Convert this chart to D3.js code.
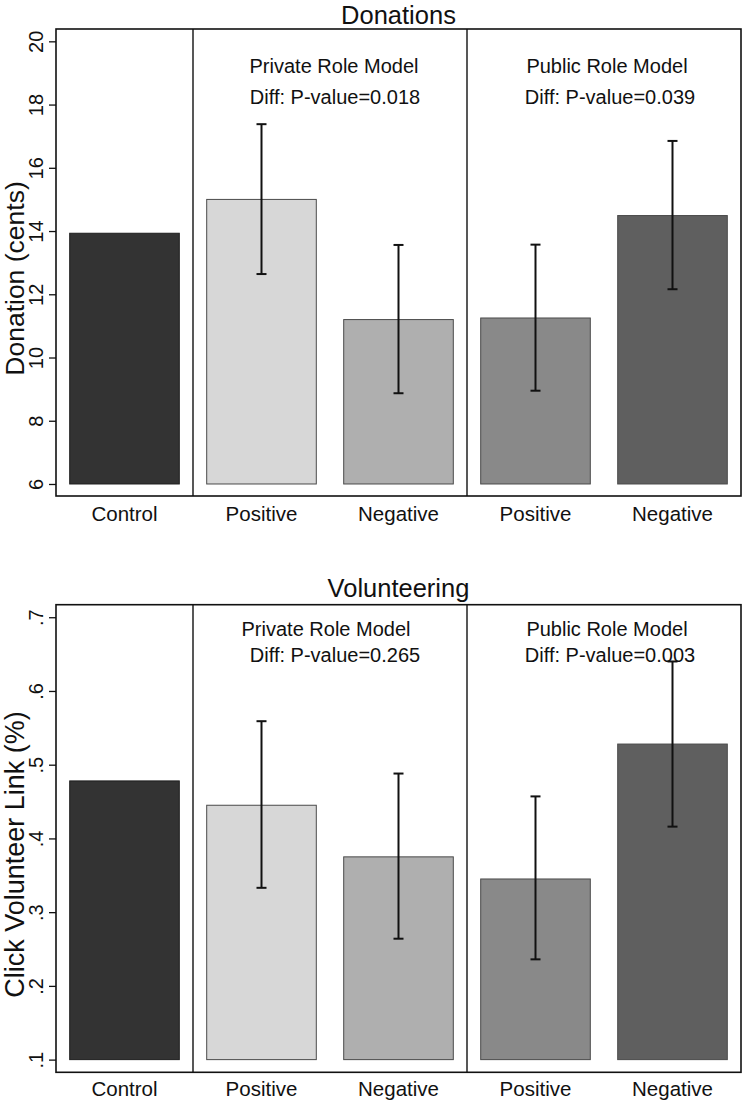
<!DOCTYPE html>
<html>
<head>
<meta charset="utf-8">
<script src="https://cdn.jsdelivr.net/npm/d3@7"></script>
<style>
  html, body { margin: 0; padding: 0; background: #fff; }
  svg { display: block; font-family: "Liberation Sans", Arial, Helvetica, sans-serif; }
</style>
</head>
<body>
<svg id="chart" width="742" height="1100"></svg>
<script>
// ---- Data ----
const categories = ["Control", "Private Positive", "Private Negative", "Public Positive", "Public Negative"];
const xTickLabels = ["Control", "Positive", "Negative", "Positive", "Negative"];
const barColors = ["#333333", "#d7d7d7", "#afafaf", "#898989", "#5f5f5f"];

const donationMean = [13.93, 15.0, 11.2, 11.25, 14.49];
const donationLo   = [null, 12.64, 8.87, 8.95, 12.16];
const donationHi   = [null, 17.38, 13.56, 13.57, 16.85];
const donationTicks = [6, 8, 10, 12, 14, 16, 18, 20];
const donationTickLabels = ["6", "8", "10", "12", "14", "16", "18", "20"];

const volMean = [0.478, 0.445, 0.375, 0.345, 0.528];
const volLo   = [null, 0.333, 0.264, 0.236, 0.416];
const volHi   = [null, 0.559, 0.488, 0.457, 0.640];
const volTicks = [0.1, 0.2, 0.3, 0.4, 0.5, 0.6, 0.7];
const volTickLabels = [".1", ".2", ".3", ".4", ".5", ".6", ".7"];

const groupNames = ["Private Role Model", "Public Role Model"];
const donationPValues = ["Diff: P-value=0.018", "Diff: P-value=0.039"];
const volPValues = ["Diff: P-value=0.265", "Diff: P-value=0.003"];

// ---- Drawing ----
const svg = d3.select("#chart");
const left = 56, right = 741;

const x = d3.scaleBand().domain(categories).range([left, right]).paddingInner(0.2).paddingOuter(0.1);

function panel(cfg) {
  const g = svg.append("g");
  const y = d3.scaleLinear().domain(cfg.domain).range([cfg.bottom, cfg.top]);
  const base = cfg.ticks[0];
  const rows = categories.map((c, i) => ({c, i, m: cfg.mean[i], lo: cfg.lo[i], hi: cfg.hi[i]}));

  // Bars
  g.selectAll("rect.bar").data(rows).join("rect")
    .attr("class", "bar")
    .attr("x", d => x(d.c))
    .attr("width", x.bandwidth())
    .attr("y", d => y(d.m))
    .attr("height", d => y(base) - y(d.m))
    .attr("fill", d => barColors[d.i])
    .attr("stroke", d => d.i === 0 ? "#1e1e1e" : "#4a4a4a")
    .attr("stroke-width", 1);

  // Error bars
  const eb = rows.filter(d => d.lo !== null);
  const cap = 5;
  g.selectAll("line.eb").data(eb).join("line")
    .attr("x1", d => x(d.c) + x.bandwidth() / 2).attr("x2", d => x(d.c) + x.bandwidth() / 2)
    .attr("y1", d => y(d.lo)).attr("y2", d => y(d.hi))
    .attr("stroke", "#111").attr("stroke-width", 2);
  g.selectAll("line.capHi").data(eb).join("line")
    .attr("x1", d => x(d.c) + x.bandwidth() / 2 - cap).attr("x2", d => x(d.c) + x.bandwidth() / 2 + cap)
    .attr("y1", d => y(d.hi)).attr("y2", d => y(d.hi))
    .attr("stroke", "#111").attr("stroke-width", 2);
  g.selectAll("line.capLo").data(eb).join("line")
    .attr("x1", d => x(d.c) + x.bandwidth() / 2 - cap).attr("x2", d => x(d.c) + x.bandwidth() / 2 + cap)
    .attr("y1", d => y(d.lo)).attr("y2", d => y(d.lo))
    .attr("stroke", "#111").attr("stroke-width", 2);

  // Frame
  g.append("rect")
    .attr("x", left).attr("y", cfg.top)
    .attr("width", right - left).attr("height", cfg.bottom - cfg.top)
    .attr("fill", "none").attr("stroke", "#111").attr("stroke-width", 1.6);

  // Group dividers
  const half = x.step() * x.paddingInner() / 2;
  [categories[1], categories[3]].forEach(c => {
    g.append("line")
      .attr("x1", x(c) - half).attr("x2", x(c) - half)
      .attr("y1", cfg.top).attr("y2", cfg.bottom)
      .attr("stroke", "#111").attr("stroke-width", 1.4);
  });

  // Y axis
  const yAxis = d3.axisLeft(y).tickValues(cfg.ticks)
    .tickFormat((d, i) => cfg.tickLabels[i]).tickSize(7).tickSizeOuter(0);
  const ax = g.append("g").attr("transform", `translate(${left},0)`).call(yAxis);
  ax.select(".domain").remove();
  ax.selectAll(".tick line").attr("stroke", "#111").attr("stroke-width", 1.3);
  ax.selectAll(".tick text")
    .attr("x", null).attr("dy", null)
    .attr("transform", "translate(-12.7,0) rotate(-90)")
    .attr("text-anchor", "middle")
    .attr("fill", "#111")
    .style("font-size", "20px")
    .style("font-family", "'Liberation Sans', Arial, sans-serif");

  // X axis labels
  const xAxis = d3.axisBottom(x).tickSize(0).tickFormat((d, i) => xTickLabels[i]);
  const xa = g.append("g").attr("transform", `translate(0,${cfg.bottom})`).call(xAxis);
  xa.select(".domain").remove();
  xa.selectAll(".tick text")
    .attr("y", 0).attr("dy", null)
    .attr("transform", `translate(0,${cfg.xLabelOff})`)
    .attr("fill", "#111")
    .style("font-size", "20.5px")
    .style("font-family", "'Liberation Sans', Arial, sans-serif");

  // Y title
  g.append("text")
    .attr("transform", `translate(23.5,${(cfg.top + cfg.bottom) / 2 + 16}) rotate(-90)`)
    .attr("text-anchor", "middle")
    .attr("fill", "#111")
    .style("font-size", cfg.ytitleSize)
    .text(cfg.ytitle);

  // Title
  g.append("text")
    .attr("x", (left + right) / 2).attr("y", cfg.titleY)
    .attr("text-anchor", "middle")
    .attr("fill", "#111")
    .style("font-size", "25.5px")
    .text(cfg.title);

  // Annotations
  const groupCenters = [
    (x(categories[1]) + x(categories[2]) + x.bandwidth()) / 2,
    (x(categories[3]) + x(categories[4]) + x.bandwidth()) / 2
  ];
  groupCenters.forEach((cx, k) => {
    g.append("text")
      .attr("x", cx + cfg.annOff[k][0]).attr("y", cfg.ann1Y)
      .attr("text-anchor", "middle").attr("fill", "#111")
      .style("font-size", "20px")
      .text(groupNames[k]);
    g.append("text")
      .attr("x", cx + cfg.annOff[k][1]).attr("y", cfg.ann2Y)
      .attr("text-anchor", "middle").attr("fill", "#111")
      .style("font-size", "20px")
      .text(cfg.pvals[k]);
  });
}

panel({
  domain: [5.62, 20.39], top: 29, bottom: 496,
  mean: donationMean, lo: donationLo, hi: donationHi,
  ticks: donationTicks, tickLabels: donationTickLabels,
  ytitle: "Donation (cents)", ytitleSize: "26.5px",
  title: "Donations", titleY: 23.8, xLabelOff: 24.5,
  ann1Y: 72.7, ann2Y: 104, annOff: [[4, 5], [3, 6]],
  pvals: donationPValues
});

panel({
  domain: [0.0828, 0.717], top: 604.7, bottom: 1072.3,
  mean: volMean, lo: volLo, hi: volHi,
  ticks: volTicks, tickLabels: volTickLabels,
  ytitle: "Click Volunteer Link (%)", ytitleSize: "27px",
  title: "Volunteering", titleY: 597, xLabelOff: 23.5,
  ann1Y: 635.7, ann2Y: 661.7, annOff: [[-4, 5], [3, 6]],
  pvals: volPValues
});
</script>
</body>
</html>
